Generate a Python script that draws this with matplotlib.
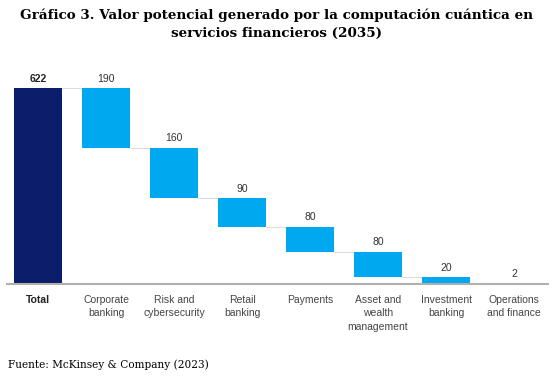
import matplotlib.pyplot as plt
import numpy as np

categories = ['Total', 'Corporate\nbanking', 'Risk and\ncybersecurity', 'Retail\nbanking',
              'Payments', 'Asset and\nwealth\nmanagement', 'Investment\nbanking',
              'Operations\nand finance']
total = 622
steps = [190, 160, 90, 80, 80, 20, 2]

navy = '#0B1D6B'
blue = '#00A8F0'
sans = ['Liberation Sans', 'DejaVu Sans']
serif = ['DejaVu Serif']

fig = plt.figure(figsize=(5.53, 3.77), dpi=100)
ax = fig.add_axes([7 / 553, 1 - 284 / 377, 541 / 553, 0.585])

x = np.arange(len(categories))
w = 0.70

# total bar
ax.bar(x[0], total, width=w, color=navy, zorder=2)
ax.text(x[0], total + 14, str(total), ha='center', va='bottom', fontsize=7.5,
        fontweight='bold', family=sans, color='#222222')

# waterfall steps going down
top = total
for i, v in enumerate(steps):
    xi = x[i + 1]
    bottom = top - v
    ax.bar(xi, v, bottom=bottom, width=w, color=blue, zorder=2)
    ax.text(xi, top + 14, str(v), ha='center', va='bottom', fontsize=7.5,
            family=sans, color='#333333')
    # connector line from previous bar
    ax.plot([x[i] + w / 2, xi - w / 2], [top, top], color='#dddddd', lw=0.8, zorder=1)
    top = bottom

ax.set_xlim(-0.46, 7.5)
ax.set_ylim(0, 700)
ax.set_yticks([])
ax.set_xticks(x)
ax.set_xticklabels(categories, fontsize=7.5, family=sans, color='#444444',
                   linespacing=1.4, va='top')
ax.get_xticklabels()[0].set_fontweight('bold')
ax.get_xticklabels()[0].set_color('#222222')
ax.tick_params(axis='x', length=0, pad=8)
for s in ['top', 'right', 'left']:
    ax.spines[s].set_visible(False)
ax.spines['bottom'].set_color('#b0b0b0')
ax.spines['bottom'].set_linewidth(1.5)

fig.text(0.5, 1 - 15 / 377, 'Gráfico 3. Valor potencial generado por la computación cuántica en',
         ha='center', va='center', fontsize=9.7, fontweight='bold', family=serif)
fig.text(0.5, 1 - 33 / 377, 'servicios financieros (2035)',
         ha='center', va='center', fontsize=9.7, fontweight='bold', family=serif)
fig.text(8 / 553, 1 - 365 / 377, 'Fuente: McKinsey & Company (2023)',
         ha='left', va='center', fontsize=7.6, family=serif)

fig.savefig('out.png', dpi=100)
